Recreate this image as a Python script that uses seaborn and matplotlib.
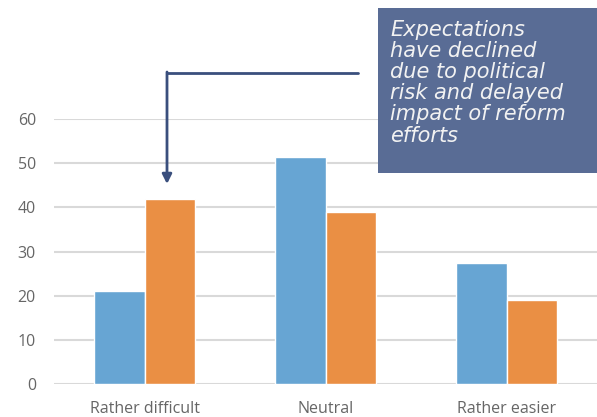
import matplotlib
matplotlib.use("Agg")
import matplotlib.pyplot as plt
import seaborn as sns
import pandas as pd

categories = ["Rather difficult", "Neutral", "Rather easier"]
series_names = ["Previous survey", "Current survey"]
previous_values = [21, 51.5, 27.5]
current_values = [42, 39, 19]
y_ticks = [0, 10, 20, 30, 40, 50, 60]
note_text = "Expectations\nhave declined\ndue to political\nrisk and delayed\nimpact of reform\nefforts"

colors = ["#67a5d3", "#ea8f44"]

df = pd.DataFrame({
    "category": categories * 2,
    "series": [series_names[0]] * 3 + [series_names[1]] * 3,
    "value": previous_values + current_values,
})

sns.set_style("white")
plt.rcParams["font.family"] = ["Open Sans", "DejaVu Sans"]

fig = plt.figure(figsize=(5.97, 4.17), dpi=100)
ax = fig.add_axes([54 / 597, 1 - 384 / 417, 543 / 597, 265 / 417])

sns.barplot(data=df, x="category", y="value", hue="series", order=categories,
            hue_order=series_names, palette=colors, width=0.56, saturation=1,
            legend=False, ax=ax, zorder=3)

ax.set_xlim(-0.5, 2.5)
ax.set_ylim(0, 60)
ax.set_yticks(y_ticks)
ax.set_yticklabels([str(t) for t in y_ticks])
ax.set_xlabel("")
ax.set_ylabel("")
for s in ax.spines.values():
    s.set_visible(False)
ax.yaxis.grid(True, color="#d9d9d9", linewidth=1.5, zorder=0)
ax.set_axisbelow(True)
ax.tick_params(axis="both", length=0, colors="#666666", labelsize=11.5)
ax.tick_params(axis="y", pad=13)
ax.tick_params(axis="x", pad=12)

# annotation box
box_left, box_top, box_right, box_bottom = 378, 8, 597, 173
fig.patches.append(plt.Rectangle((box_left / 597, 1 - box_bottom / 417),
                                 (box_right - box_left) / 597,
                                 (box_bottom - box_top) / 417,
                                 transform=fig.transFigure, facecolor="#596c95",
                                 edgecolor="none", zorder=5))
fig.text(390 / 597, 1 - 20 / 417, note_text, color="#f2f2f2", fontsize=15,
         style="italic", va="top", ha="left", linespacing=1.07, zorder=6,
         family=["DejaVu Sans"])

# arrow
arrow_color = "#3a4f7d"
fig.add_artist(matplotlib.lines.Line2D([358 / 597, 167 / 597], [1 - 73 / 417, 1 - 73 / 417],
                                       transform=fig.transFigure, color=arrow_color, lw=2))
ax.annotate("", xy=(167 / 597, 1 - 184 / 417), xytext=(167 / 597, 1 - 72 / 417),
            xycoords="figure fraction", textcoords="figure fraction",
            arrowprops=dict(arrowstyle="-|>", color=arrow_color, lw=2,
                            mutation_scale=14, shrinkA=0, shrinkB=0))

fig.savefig("out.png", dpi=100)
